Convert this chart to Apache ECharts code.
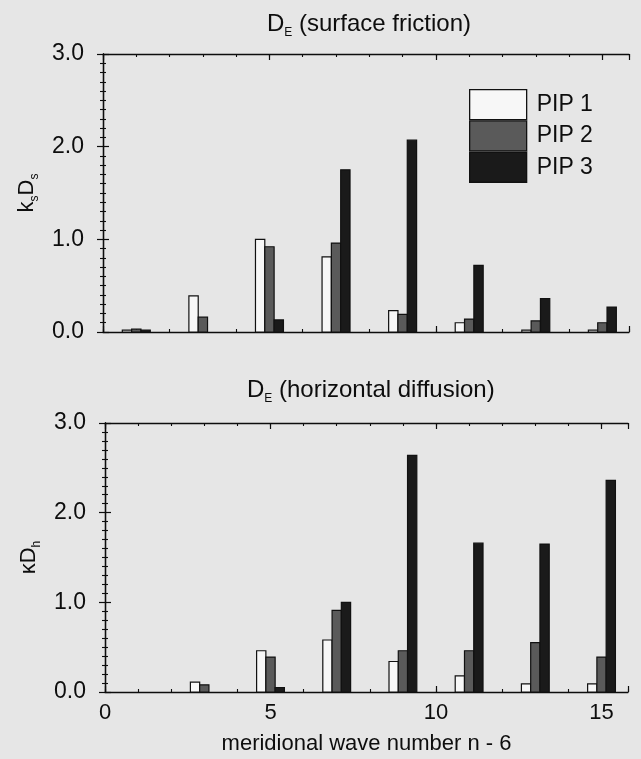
<!DOCTYPE html>
<html>
<head>
<meta charset="utf-8">
<script src="https://cdn.jsdelivr.net/npm/echarts@6/dist/echarts.min.js"></script>
<style>
  html, body { margin: 0; padding: 0; background: #e6e6e6; }
  #chart { width: 641px; height: 759px; }
</style>
</head>
<body>
<div id="chart"></div>
<script>
// Growth-rate contributions per meridional wave number (n - 6)
const waveNumbers = [1, 3, 5, 7, 9, 11, 13, 15];
const seriesNames = ['PIP 1', 'PIP 2', 'PIP 3'];

// Upper panel: surface friction, k_s D_s
const frictionPIP1 = [0.02, 0.39, 1.00, 0.81, 0.23, 0.10, 0.02, 0.02];
const frictionPIP2 = [0.03, 0.16, 0.92, 0.96, 0.19, 0.14, 0.12, 0.10];
const frictionPIP3 = [0.02, 0.00, 0.13, 1.75, 2.07, 0.72, 0.36, 0.27];

// Lower panel: horizontal diffusion, kappa D_h
const diffusionPIP1 = [0.00, 0.11, 0.46, 0.58, 0.34, 0.18, 0.09, 0.09];
const diffusionPIP2 = [0.00, 0.08, 0.39, 0.91, 0.46, 0.46, 0.55, 0.39];
const diffusionPIP3 = [0.00, 0.00, 0.05, 1.00, 2.64, 1.66, 1.65, 2.36];

const xTickLabels = ['0', '5', '10', '15'];
const yTickLabels = ['0.0', '1.0', '2.0', '3.0'];

const FONT = 'Liberation Sans, Arial, Helvetica, sans-serif';
const INK = '#0d0d0d';
const fills = ['#f7f7f7', '#5a5a5a', '#1a1a1a'];
const BAR_W = 0.28;              // bar width in wave-number units
const offsets = [-BAR_W, 0, BAR_W];
const X_MAX = 15.8;

const chart = echarts.init(document.getElementById('chart'), null, { renderer: 'canvas' });

const grids = [
  { left: 103, top: 54, width: 526, height: 278 },
  { left: 105, top: 423, width: 523, height: 269 }
];

function xAxesFor(g, withLabels) {
  const base = { type: 'value', gridIndex: g, min: 0, max: X_MAX, splitLine: { show: false } };
  const line = { show: true, lineStyle: { color: INK, width: 1.3 } };
  return [
    Object.assign({}, base, {
      position: 'bottom', interval: 5,
      axisLine: line,
      axisTick: { show: true, inside: true, length: 6, lineStyle: { color: INK, width: 1.2 } },
      axisLabel: {
        show: withLabels, margin: 10, color: INK, fontFamily: FONT, fontSize: 22,
        formatter: v => (v % 5 === 0 ? xTickLabels[v / 5] : '')
      },
      name: withLabels ? 'meridional wave number n - 6' : '',
      nameLocation: 'middle', nameGap: 41,
      nameTextStyle: { color: INK, fontFamily: FONT, fontSize: 22 }
    }),
    Object.assign({}, base, {
      position: 'bottom', interval: 1,
      axisLine: { show: false },
      axisTick: { show: true, inside: true, length: 3, lineStyle: { color: INK, width: 1.1 } },
      axisLabel: { show: false }
    }),
    Object.assign({}, base, {
      position: 'top', interval: 5,
      axisLine: line,
      axisTick: { show: true, inside: true, length: 6, lineStyle: { color: INK, width: 1.2 } },
      axisLabel: { show: false }
    }),
    Object.assign({}, base, {
      position: 'top', interval: 1,
      axisLine: { show: false },
      axisTick: { show: true, inside: true, length: 3, lineStyle: { color: INK, width: 1.1 } },
      axisLabel: { show: false }
    })
  ];
}

function yAxesFor(g, nameRich) {
  const base = {
    type: 'value', gridIndex: g, min: 0, max: 3, interval: 1,
    splitLine: { show: false },
    axisLine: { show: true, lineStyle: { color: INK, width: 1.3 } },
    axisTick: { show: true, inside: true, length: 6, lineStyle: { color: INK, width: 1.2 } },
    minorTick: { show: true, splitNumber: 10, length: 3, lineStyle: { color: INK, width: 1.1 } },
    minorSplitLine: { show: false }
  };
  return [
    Object.assign({}, base, {
      position: 'left',
      axisLabel: {
        margin: 19, color: INK, fontFamily: FONT, fontSize: 23,
        formatter: v => yTickLabels[Math.round(v)]
      },
      name: nameRich, nameLocation: 'middle', nameRotate: 90, nameGap: 58,
      nameTextStyle: {
        color: INK, fontFamily: FONT,
        rich: {
          m: { fontSize: 22, fontFamily: FONT, color: INK, lineHeight: 28, verticalAlign: 'middle' },
          s: { fontSize: 12, fontFamily: FONT, color: INK, lineHeight: 12, verticalAlign: 'bottom' }
        }
      }
    }),
    Object.assign({}, base, { position: 'right', axisLabel: { show: false } })
  ];
}

function barRenderer(offset, fill) {
  return function (params, api) {
    const x = api.value(0);
    const v = api.value(1);
    if (!v) return null;
    const a = api.coord([x + offset - BAR_W / 2, 0]);
    const b = api.coord([x + offset + BAR_W / 2, v]);
    return {
      type: 'rect',
      shape: { x: a[0], y: b[1], width: b[0] - a[0], height: a[1] - b[1] },
      style: { fill: fill, stroke: '#111', lineWidth: 1.2 }
    };
  };
}

const panels = [
  [frictionPIP1, frictionPIP2, frictionPIP3],
  [diffusionPIP1, diffusionPIP2, diffusionPIP3]
];

const series = [];
panels.forEach((vals, g) => {
  vals.forEach((arr, i) => {
    series.push({
      type: 'custom',
      name: seriesNames[i],
      xAxisIndex: 4 * g,
      yAxisIndex: 2 * g,
      itemStyle: { color: fills[i], borderColor: '#111', borderWidth: 1.2 },
      renderItem: barRenderer(offsets[i], fills[i]),
      data: waveNumbers.map((w, k) => [w, arr[k]]),
      silent: true
    });
  });
});

const titleRich = {
  m: { fontSize: 24, fontWeight: 'normal', fontFamily: FONT, color: INK, lineHeight: 30, verticalAlign: 'middle' },
  s: { fontSize: 12, fontWeight: 'normal', fontFamily: FONT, color: INK, lineHeight: 14, verticalAlign: 'bottom' }
};

chart.setOption({
  backgroundColor: '#e6e6e6',
  animation: false,
  title: [
    { text: '{m|D}{s|E}{m| (surface friction)}', left: 262, top: 4,
      textStyle: { fontWeight: 'normal', rich: titleRich } },
    { text: '{m|D}{s|E}{m| (horizontal diffusion)}', left: 242, top: 370,
      textStyle: { fontWeight: 'normal', rich: titleRich } }
  ],
  legend: {
    orient: 'vertical', left: 464, top: 84,
    itemWidth: 57, itemHeight: 30, itemGap: 0,
    selectedMode: false,
    textStyle: { color: INK, fontFamily: FONT, fontSize: 23, padding: [0, 0, 0, 5] },
    data: seriesNames.map((n, i) => ({
      name: n, icon: 'rect',
      itemStyle: { color: fills[i], borderColor: '#111', borderWidth: 1.3 }
    }))
  },
  grid: grids,
  xAxis: [].concat(xAxesFor(0, false), xAxesFor(1, true)),
  yAxis: [].concat(
    yAxesFor(0, '{m|k}{s|s}{m|D}{s|s}'),
    yAxesFor(1, '{m|κD}{s|h}')
  ),
  series: series
});
</script>
</body>
</html>
